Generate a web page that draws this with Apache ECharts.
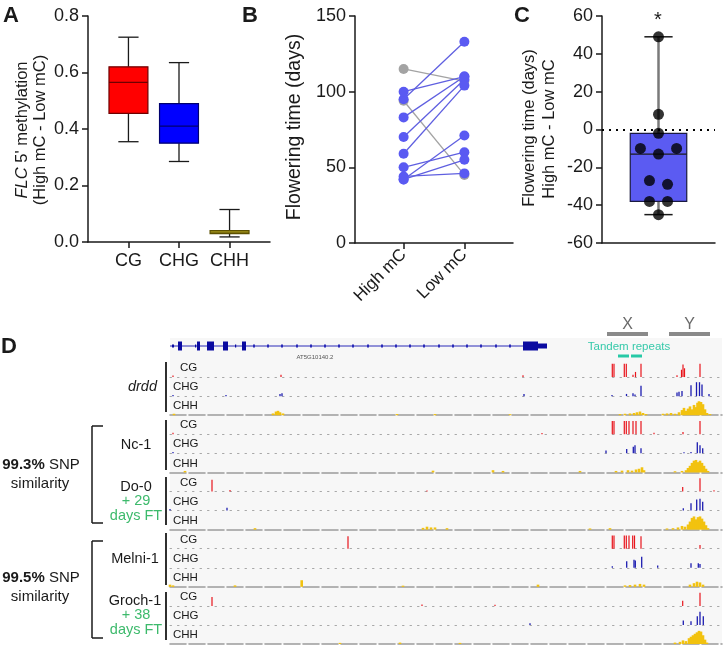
<!DOCTYPE html>
<html><head><meta charset="utf-8">
<script src="https://cdn.jsdelivr.net/npm/echarts@6/dist/echarts.min.js"></script>
<style>html,body{margin:0;padding:0;background:#fff}#c{width:725px;height:646px}</style>
</head><body><div id="c"></div>
<script>
// ---------- Panel A data ----------
const aCats = ['CG', 'CHG', 'CHH'];
const aMin = [0.355, 0.285, 0.018];
const aQ1 = [0.455, 0.35, 0.03];
const aMed = [0.565, 0.41, 0.035];
const aQ3 = [0.62, 0.49, 0.04];
const aMax = [0.725, 0.635, 0.115];
const aTicks = [0, 0.2, 0.4, 0.6, 0.8];
// ---------- Panel B data ----------
const bCats = ['High mC', 'Low mC'];
const bHigh = [115, 94, 95, 100, 83, 70, 59, 50, 42, 42, 44];
const bLow = [107, 45, 133, 110, 110, 108, 104, 60, 71, 55, 46];
const bTicks = [0, 50, 100, 150];
// ---------- Panel C data ----------
const cDiff = [8, 49, -38, -10, -27, -38, -45, -10, -29, -13, -2];
const cJitter = [0, 0, -0.16, -0.32, -0.16, 0.16, 0, 0.32, 0.16, 0, 0];
const cBox = { min: -45, q1: -38, med: -13, q3: -2, max: 49 };
const cTicks = [-60, -40, -20, 0, 20, 40, 60];
// ---------- Panel D data (positions along the locus, 0..552) ----------
const geneName = 'AT5G10140.2';
const geneSpan = [0, 377];
const geneExons = [[2, 4, 0], [8, 12, 1], [25, 26, 0], [27, 30, 1], [37, 44, 1], [53, 58, 1], [65, 66, 0], [72, 76, 1], [353, 368, 2], [368, 377, 3]];
const geneIntronMarks = [84, 98, 112, 127, 141, 155, 169, 183, 198, 212, 226, 240, 254, 269, 283, 297, 311, 326, 340];
const regionNames = ['X', 'Y'];
const regionStart = [437, 499];
const regionEnd = [478, 540];
const repeatStart = [448, 461];
const repeatEnd = [459, 472];
const repeatLabel = 'Tandem repeats';
const contexts = ['CG', 'CHG', 'CHH'];
const samples = ['drdd', 'Nc-1', 'Do-0', 'Melni-1', 'Groch-1'];

const drddCG = [[3,0.1],[111,0.15],[353,0.12],[442.3,0.9],[444,0.9],[454.3,0.9],[456.3,0.9],[463,0.15],[465.5,0.35],[471,0.9],[507,0.12],[511.5,0.5],[513,0.85],[514.5,0.6],[530,0.9]];
const drddCHG = [[3,0.08],[56,0.08],[110,0.15],[112,0.2],[354,0.15],[442,0.08],[456.5,0.15],[463,0.2],[465,0.12],[471,0.7],[507,0.25],[509,0.3],[512,0.35],[521,0.75],[526.5,0.95],[529.5,0.95],[532,0.8],[539,0.15]];
const drddCHH = [[4,0.1],[103,0.12],[106,0.25],[108,0.3],[110,0.2],[113,0.12],[227,0.08],[265,0.08],[340,0.07],[450,0.08],[455,0.1],[460,0.12],[464,0.15],[467,0.2],[470,0.25],[473,0.15],[476,0.08],[493,0.1],[497,0.12],[501,0.15],[505,0.1],[509,0.2],[512,0.35],[514,0.5],[516,0.3],[518,0.45],[520,0.6],[522,0.4],[524,0.7],[526,0.55],[527.5,0.85],[529,0.95],[531,0.9],[533,0.75],[535,0.4],[537,0.15],[540,0.08]];
const nc1CG = [[3,0.1],[372,0.08],[442.3,0.9],[444,0.9],[454.3,0.9],[456.3,0.9],[459,0.9],[463,0.9],[466,0.9],[471,0.9],[484,0.1],[513,0.15],[530,0.9]];
const nc1CHG = [[3,0.1],[436,0.2],[456.7,0.3],[463.3,0.45],[465,0.55],[471,0.35],[514,0.08],[521,0.1],[527.3,0.75],[530,0.55],[532.7,0.35]];
const nc1CHH = [[15,0.1],[263,0.12],[323,0.15],[333,0.1],[410,0.1],[446,0.1],[452,0.12],[458,0.15],[462,0.12],[466,0.2],[469,0.25],[472,0.35],[474,0.15],[505,0.08],[512,0.1],[516,0.15],[518,0.3],[520,0.45],[522,0.65],[524,0.8],[526,0.85],[528,0.7],[530,0.8],[532,0.65],[534,0.45],[536,0.25],[538,0.1]];
const do0CG = [[42,0.8],[60,0.1],[257,0.06],[512.7,0.3],[530,0.9],[544,0.08]];
const do0CHG = [[0,0.1],[57,0.2],[513.3,0.15],[521,0.5],[526.7,0.75],[530,0.8],[532.7,0.6]];
const do0CHH = [[85,0.1],[253,0.12],[257,0.2],[261,0.15],[265,0.15],[277,0.1],[420,0.08],[440,0.1],[497,0.08],[503,0.1],[508,0.15],[512,0.25],[515,0.2],[518,0.35],[520,0.55],[522,0.8],[524,0.9],[526,0.7],[528,0.85],[530,0.9],[532,0.75],[534,0.55],[536,0.3],[538,0.1]];
const melCG = [[178,0.85],[442.3,0.9],[444,0.9],[454.3,0.9],[456.3,0.9],[459,0.9],[462.7,0.9],[464.5,0.9],[471,0.85],[530,0.25]];
const melCHG = [[442.3,0.1],[456.7,0.45],[464,0.55],[465.3,0.5],[471.7,0.75],[487.7,0.15],[521,0.3],[528.3,0.3],[530,0.25]];
const melCHH = [[0,0.15],[3,0.1],[65,0.1],[131.7,0.45],[233,0.08],[368,0.15],[455,0.1],[460,0.12],[465,0.15],[470,0.2],[474,0.15],[520,0.15],[524,0.25],[527,0.35],[530,0.3],[533,0.15]];
const grCG = [[42,0.6],[252,0.1],[325,0.08],[512.7,0.35],[530,0.9]];
const grCHG = [[360,0.12],[513.3,0.3],[521,0.25],[527.3,0.6],[530,0.9],[533.3,0.6]];
const grCHH = [[170,0.08],[230,0.1],[290,0.08],[505,0.1],[510,0.15],[513,0.25],[516,0.2],[519,0.4],[521,0.5],[523,0.6],[525,0.7],[527,0.8],[529,0.9],[531,0.85],[533,0.6],[535,0.3],[537,0.1]];
const trackData = [drddCG, drddCHG, drddCHH, nc1CG, nc1CHG, nc1CHH, do0CG, do0CHG, do0CHH, melCG, melCHG, melCHH, grCG, grCHG, grCHH];

// ---------- styling ----------
const FONT = 'Liberation Sans, Arial, Helvetica, sans-serif';
const GREEN = '#3dba6c';
const ctxColor = { CG: '#e8141b', CHG: '#1c1cb0', CHH: '#f2c20f' };
const ctxWidth = { CG: 1.2, CHG: 1.3, CHH: 2.6 };

const chart = echarts.init(document.getElementById('c'), null, { renderer: 'canvas' });

const grids = [], xAxes = [], yAxes = [], series = [], graphics = [];

function axisBase() {
  return {
    axisLine: { show: true, onZero: false, lineStyle: { color: '#1a1a1a', width: 1.5 } },
    axisTick: { show: true, length: 6, lineStyle: { color: '#1a1a1a', width: 1.5 } },
    axisLabel: { color: '#1a1a1a', fontSize: 18, fontFamily: FONT, margin: 9 },
    splitLine: { show: false }
  };
}

// ----- Panel A -----
grids.push({ left: 88, top: 16, width: 182, height: 226 });
xAxes.push(Object.assign(axisBase(), {
  gridIndex: 0, type: 'value', min: -0.8, max: 2.8,
  axisTick: { show: true, length: 6, customValues: [0, 1, 2], lineStyle: { color: '#1a1a1a', width: 1.5 } },
  axisLabel: { color: '#1a1a1a', fontSize: 18, fontFamily: FONT, margin: 10, customValues: [0, 1, 2], formatter: v => aCats[Math.round(v)] }
}));
yAxes.push(Object.assign(axisBase(), {
  gridIndex: 0, type: 'value', min: 0, max: 0.8, interval: 0.2,
  axisLabel: { color: '#1a1a1a', fontSize: 18, fontFamily: FONT, margin: 9, formatter: v => v.toFixed(1) }
}));
const aFill = ['#ff0000', '#0000ff', '#eedb3a'];
const aStroke = ['#6e0000', '#00006e', '#5c5000'];
series.push({
  type: 'custom', xAxisIndex: 0, yAxisIndex: 0,
  data: aCats.map((c, i) => [i, aMin[i], aQ1[i], aMed[i], aQ3[i], aMax[i]]),
  renderItem: function (params, api) {
    const i = api.value(0);
    const bw = api.size([0.77, 0])[0], cw = api.size([0.4, 0])[0];
    const pMin = api.coord([i, api.value(1)]), pQ1 = api.coord([i, api.value(2)]), pMed = api.coord([i, api.value(3)]), pQ3 = api.coord([i, api.value(4)]), pMax = api.coord([i, api.value(5)]);
    const x = pMin[0];
    const ls = { stroke: '#1a1a1a', lineWidth: 1.3 };
    return { type: 'group', children: [
      { type: 'line', shape: { x1: x, y1: pMax[1], x2: x, y2: pQ3[1] }, style: ls },
      { type: 'line', shape: { x1: x, y1: pQ1[1], x2: x, y2: pMin[1] }, style: ls },
      { type: 'line', shape: { x1: x - cw / 2, y1: pMax[1], x2: x + cw / 2, y2: pMax[1] }, style: ls },
      { type: 'line', shape: { x1: x - cw / 2, y1: pMin[1], x2: x + cw / 2, y2: pMin[1] }, style: ls },
      { type: 'rect', shape: { x: x - bw / 2, y: pQ3[1], width: bw, height: Math.max(pQ1[1] - pQ3[1], 2) }, style: { fill: aFill[i], stroke: aStroke[i], lineWidth: 1.2 } },
      { type: 'line', shape: { x1: x - bw / 2, y1: pMed[1], x2: x + bw / 2, y2: pMed[1] }, style: { stroke: aStroke[i], lineWidth: 1.3 } }
    ] };
  }
});

// ----- Panel B -----
grids.push({ left: 355, top: 16, width: 158, height: 227 });
xAxes.push(Object.assign(axisBase(), {
  gridIndex: 1, type: 'value', min: -0.8, max: 1.8,
  axisTick: { show: true, length: 6, customValues: [0, 1], lineStyle: { color: '#1a1a1a', width: 1.5 } },
  axisLabel: { color: '#1a1a1a', fontSize: 17, fontFamily: FONT, margin: 9, rotate: 45, customValues: [0, 1], formatter: v => bCats[Math.round(v)] }
}));
yAxes.push(Object.assign(axisBase(), { gridIndex: 1, type: 'value', min: 0, max: 150, interval: 50 }));
const bOrder = bHigh.map((h, i) => i).sort((a, b) => (bHigh[b] > bLow[b]) - (bHigh[a] > bLow[a]));
bOrder.forEach(i => {
  const down = bHigh[i] > bLow[i];
  series.push({
    type: 'line', xAxisIndex: 1, yAxisIndex: 1, data: [[0, bHigh[i]], [1, bLow[i]]],
    symbol: 'circle', symbolSize: 10, z: down ? 2 : 3,
    lineStyle: { color: down ? '#a3a3a3' : '#5f5fe0', width: 1.3 },
    itemStyle: { color: down ? '#a3a3a3' : '#5a5af2', borderWidth: 0 },
    emphasis: { disabled: true }, animation: false
  });
});

// ----- Panel C -----
grids.push({ left: 602, top: 16, width: 113, height: 227 });
xAxes.push(Object.assign(axisBase(), { gridIndex: 2, type: 'value', min: -1, max: 1, axisTick: { show: false }, axisLabel: { show: false } }));
yAxes.push(Object.assign(axisBase(), { gridIndex: 2, type: 'value', min: -60, max: 60, interval: 20 }));
series.push({
  type: 'custom', xAxisIndex: 2, yAxisIndex: 2, z: 2,
  data: [[0, cBox.min, cBox.q1, cBox.med, cBox.q3, cBox.max]],
  renderItem: function (params, api) {
    const bw = api.size([1.0, 0])[0], cw = api.size([0.5, 0])[0];
    const pMin = api.coord([0, api.value(1)]), pQ1 = api.coord([0, api.value(2)]), pMed = api.coord([0, api.value(3)]), pQ3 = api.coord([0, api.value(4)]), pMax = api.coord([0, api.value(5)]);
    const x = pMin[0];
    return { type: 'group', children: [
      { type: 'line', shape: { x1: x, y1: pMax[1], x2: x, y2: pQ3[1] }, style: { stroke: '#7a7a7a', lineWidth: 2.5 } },
      { type: 'line', shape: { x1: x, y1: pQ1[1], x2: x, y2: pMin[1] }, style: { stroke: '#7a7a7a', lineWidth: 2.5 } },
      { type: 'line', shape: { x1: x - cw / 2, y1: pMax[1], x2: x + cw / 2, y2: pMax[1] }, style: { stroke: '#1a1a1a', lineWidth: 1.5 } },
      { type: 'line', shape: { x1: x - cw / 2, y1: pMin[1], x2: x + cw / 2, y2: pMin[1] }, style: { stroke: '#1a1a1a', lineWidth: 1.5 } },
      { type: 'rect', shape: { x: x - bw / 2, y: pQ3[1], width: bw, height: pQ1[1] - pQ3[1] }, style: { fill: '#5b5bf2', stroke: '#1a1a40', lineWidth: 1.2 } },
      { type: 'line', shape: { x1: x - bw / 2, y1: pMed[1], x2: x + bw / 2, y2: pMed[1] }, style: { stroke: '#1a1a1a', lineWidth: 1.4 } }
    ] };
  }
});
series.push({
  type: 'scatter', xAxisIndex: 2, yAxisIndex: 2, z: 4,
  data: cDiff.map((d, i) => [cJitter[i], d]),
  symbolSize: 11, itemStyle: { color: '#000' },
  markLine: { silent: true, symbol: 'none', label: { show: false },
    lineStyle: { type: [2, 5], color: '#000', width: 2 }, data: [{ yAxis: 0 }] }
});

// ----- Panel D: annotation (gene, X/Y, repeats) -----
const TRACK_L = 170, TRACK_W = 552;
grids.push({ left: TRACK_L, top: 338, width: TRACK_W, height: 20, show: true, backgroundColor: '#f7f7f7', borderWidth: 0 });
xAxes.push({ gridIndex: 3, type: 'value', min: 0, max: 552, show: false });
yAxes.push({ gridIndex: 3, type: 'value', min: 0, max: 20, inverse: true, show: false });
series.push({
  type: 'custom', xAxisIndex: 3, yAxisIndex: 3, clip: false, silent: true,
  data: [[0]],
  renderItem: function (params, api) {
    const ch = [];
    const yGene = api.coord([0, 8])[1];
    const g0 = api.coord([geneSpan[0], 8]), g1 = api.coord([geneSpan[1], 8]);
    ch.push({ type: 'line', shape: { x1: g0[0], y1: yGene, x2: g1[0], y2: yGene }, style: { stroke: '#2a2ab8', lineWidth: 1 } });
    const hs = [3, 9, 9, 5];
    geneExons.forEach(e => {
      const a = api.coord([e[0], 8])[0], b = api.coord([e[1], 8])[0];
      const h = hs[e[2]];
      ch.push({ type: 'rect', shape: { x: a, y: yGene - h / 2, width: Math.max(b - a, 1.2), height: h }, style: { fill: '#0a0aa0' } });
    });
    geneIntronMarks.forEach(m => {
      const a = api.coord([m, 8])[0];
      ch.push({ type: 'rect', shape: { x: a - 1, y: yGene - 1.5, width: 2, height: 3 }, style: { fill: '#2a2ab8' } });
    });
    ch.push({ type: 'text', style: { text: geneName, x: api.coord([145, 0])[0], y: api.coord([0, 19])[1], fontSize: 6, fill: '#555', align: 'center', verticalAlign: 'middle', fontFamily: FONT } });
    regionNames.forEach((n, i) => {
      const a = api.coord([regionStart[i], -4]), b = api.coord([regionEnd[i], -4]);
      ch.push({ type: 'rect', shape: { x: a[0], y: a[1] - 2, width: b[0] - a[0], height: 4 }, style: { fill: '#8a8a8a' } });
      ch.push({ type: 'text', style: { text: n, x: (a[0] + b[0]) / 2, y: api.coord([0, -13.5])[1], fontSize: 16, fill: '#6a6a6a', align: 'center', verticalAlign: 'middle', fontFamily: FONT } });
    });
    repeatStart.forEach((s, i) => {
      const a = api.coord([s, 18]), b = api.coord([repeatEnd[i], 18]);
      ch.push({ type: 'rect', shape: { x: a[0], y: a[1] - 1.5, width: b[0] - a[0], height: 3 }, style: { fill: '#27c9a6' } });
    });
    ch.push({ type: 'text', style: { text: repeatLabel, x: api.coord([459, 0])[0], y: api.coord([0, 9])[1], fontSize: 11.5, fill: '#36c9aa', align: 'center', verticalAlign: 'middle', fontFamily: FONT } });
    return { type: 'group', children: ch };
  }
});

// ----- Panel D: methylation tracks -----
const ROW_H = 19.07, ROW0 = 358;
trackData.forEach((d, r) => {
  const ctx = contexts[r % 3];
  const gi = 4 + r;
  const top = ROW0 + r * ROW_H;
  grids.push({ left: TRACK_L, top: top, width: TRACK_W, height: ROW_H, show: true, backgroundColor: '#f7f7f7', borderWidth: 0 });
  xAxes.push({ gridIndex: gi, type: 'value', min: 0, max: 552, axisLabel: { show: false }, axisTick: { show: false }, splitLine: { show: false },
    axisLine: { show: true, onZero: false, lineStyle: ctx === 'CHH' ? { color: '#9c9c9c', width: 1.6, type: [16, 3] } : { color: '#a8a8a8', width: 1, type: [1.5, 6] } } });
  yAxes.push({ gridIndex: gi, type: 'value', min: 0, max: 1.3, show: false });
  series.push({
    type: 'custom', xAxisIndex: gi, yAxisIndex: gi, data: d, silent: true,
    renderItem: function (params, api) {
      const p0 = api.coord([api.value(0), 0]);
      const p1 = api.coord([api.value(0), api.value(1)]);
      const w = ctxWidth[ctx];
      return { type: 'rect', shape: { x: p0[0] - w / 2, y: p1[1], width: w, height: p0[1] - p1[1] }, style: { fill: ctxColor[ctx] } };
    }
  });
  graphics.push({ type: 'text', x: ctx === 'CG' ? 180 : 173, y: top + 10, style: { text: ctx, fontSize: 11.5, fill: '#1a1a1a', fontFamily: FONT, verticalAlign: 'middle', align: 'left' } });
});

// ----- text / decorations -----
function txt(x, y, text, opts) {
  graphics.push(Object.assign({ type: 'text', x: x, y: y, style: Object.assign({ text: text, fill: '#1a1a1a', fontFamily: FONT, fontSize: 15, align: 'center', verticalAlign: 'middle' }, opts || {}) }));
}
function rtxt(x, y, text, opts) {
  graphics.push({ type: 'text', x: x, y: y, rotation: Math.PI / 2, style: Object.assign({ text: text, fill: '#1a1a1a', fontFamily: FONT, fontSize: 16.5, align: 'center', verticalAlign: 'middle' }, opts || {}) });
}
function ln(x1, y1, x2, y2, w) {
  graphics.push({ type: 'line', shape: { x1: x1, y1: y1, x2: x2, y2: y2 }, style: { stroke: '#1a1a1a', lineWidth: w || 1.5 } });
}
// panel letters
txt(11, 16, 'A', { fontSize: 22, fontWeight: 'bold' });
txt(250, 16, 'B', { fontSize: 22, fontWeight: 'bold' });
txt(522, 16, 'C', { fontSize: 22, fontWeight: 'bold' });
txt(9, 347, 'D', { fontSize: 22, fontWeight: 'bold' });
// axis titles
rtxt(22, 130, '{i|FLC} 5\' methylation', { rich: { i: { fontStyle: 'italic', fontSize: 16.5, fontFamily: FONT, fill: '#1a1a1a' } } });
rtxt(40, 130, '(High mC - Low mC)');
rtxt(295, 127, 'Flowering time (days)', { fontSize: 19.5 });
rtxt(529, 128, 'Flowering time (days)');
rtxt(549, 129, 'High mC - Low mC');
txt(658, 20, '*', { fontSize: 20 });
// sample labels
txt(157, 387, 'drdd', { align: 'right', fontStyle: 'italic', fontSize: 14.5 });
txt(136, 445, 'Nc-1', { fontSize: 14.5 });
txt(136, 487, 'Do-0', { fontSize: 14.5 });
txt(136, 501, '+ 29', { fontSize: 14.5, fill: GREEN });
txt(136, 516, 'days FT', { fontSize: 14.5, fill: GREEN });
txt(135, 559, 'Melni-1', { fontSize: 14.5 });
txt(135, 601, 'Groch-1', { fontSize: 14.5 });
txt(136, 615, '+ 38', { fontSize: 14.5, fill: GREEN });
txt(136, 630, 'days FT', { fontSize: 14.5, fill: GREEN });
txt(41, 465, '{b|99.3%} SNP', { fontSize: 15, rich: { b: { fontWeight: 'bold', fontSize: 15, fontFamily: FONT, fill: '#1a1a1a' } } });
txt(40, 484, 'similarity', { fontSize: 15 });
txt(41, 578, '{b|99.5%} SNP', { fontSize: 15, rich: { b: { fontWeight: 'bold', fontSize: 15, fontFamily: FONT, fill: '#1a1a1a' } } });
txt(40, 597, 'similarity', { fontSize: 15 });
// vertical group separators
[[362, 412], [420, 470], [477, 525], [533, 585], [592, 640]].forEach(s => ln(166, s[0], 166, s[1], 1.8));
// brackets
[[426, 523], [541, 638]].forEach(b => { ln(92, b[0], 92, b[1], 1.5); ln(92, b[0], 103, b[0], 1.5); ln(92, b[1], 103, b[1], 1.5); });

chart.setOption({
  animation: false,
  grid: grids, xAxis: xAxes, yAxis: yAxes, series: series,
  graphic: { elements: graphics }
});
</script></body></html>
